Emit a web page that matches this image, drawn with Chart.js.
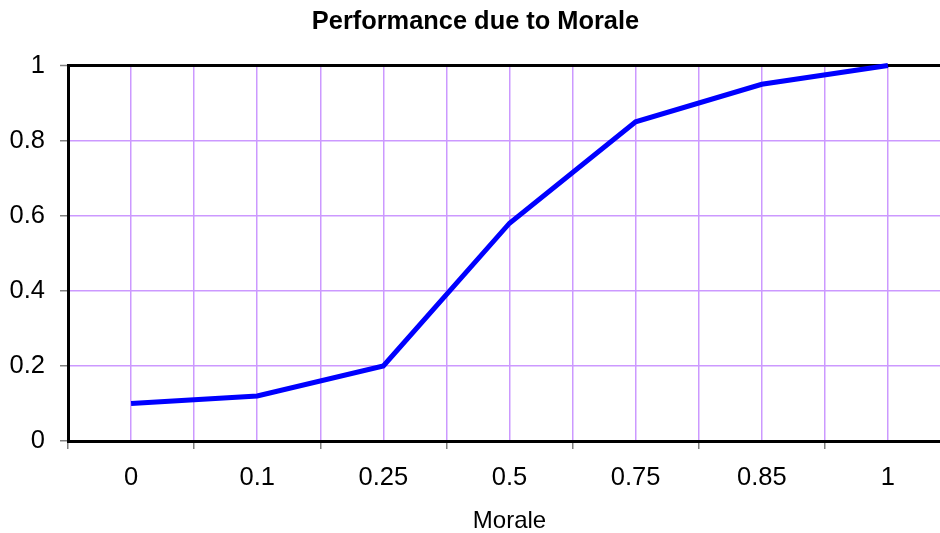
<!DOCTYPE html>
<html>
<head>
<meta charset="utf-8">
<script src="https://cdn.jsdelivr.net/npm/chart.js@4"></script>
<style>
  html, body { margin: 0; padding: 0; background: #fff; overflow: hidden; }
  #wrap { width: 940px; height: 533px; overflow: hidden; }
  canvas { display: block; }
</style>
</head>
<body>
<div id="wrap"><canvas id="chart" width="951" height="533"></canvas></div>
<script>
// morale categories on the x axis and performance
const morale = ["0", "0.1", "0.25", "0.5", "0.75", "0.85", "1"];
const performance = [0.1, 0.12, 0.2, 0.58, 0.85, 0.95, 1.0];

const GRID = "#cc99ff";
const TICK = "#808080";
const FONT = "'Liberation Sans', Arial, sans-serif";

new Chart(document.getElementById("chart"), {
    type: "line",
    data: {
        datasets: [{
            label: "Performance",
            data: performance.map((v, i) => ({ x: i, y: v })),
            borderColor: "#0000ff",
            borderWidth: 5,
            pointRadius: 0,
            tension: 0,
            clip: false
        }]
    },
    options: {
        responsive: false,
        devicePixelRatio: 1,
        animation: false,
        layout: { padding: 0 },
        plugins: {
            legend: { display: false },
            tooltip: { enabled: false },
            title: {
                display: true,
                text: "Performance due to Morale",
                color: "#000",
                font: { family: FONT, size: 25.4, weight: "bold" },
                padding: { top: 7, bottom: 28 }
            }
        },
        scales: {
            x: {
                type: "linear",
                min: -0.5,
                max: 6.5,
                afterFit: s => {
                    // keep the plot running off the right edge like the original
                    s.height = 92;
                    s.paddingLeft = 0;
                    s.paddingRight = 0;
                },
                ticks: {
                    stepSize: 0.5,
                    autoSkip: false,
                    maxRotation: 0,
                    padding: 14,
                    color: "#000",
                    font: { family: FONT, size: 25.5 },
                    callback: v => Number.isInteger(v) ? morale[v] : ""
                },
                grid: {
                    color: GRID,
                    lineWidth: 1.5,
                    tickLength: 8,
                    tickWidth: 1.5,
                    tickColor: ctx => Number.isInteger(ctx.tick.value) ? "rgba(0,0,0,0)" : TICK
                },
                border: { color: "#000", width: 3 },
                title: {
                    display: true,
                    text: "Morale",
                    color: "#000",
                    font: { family: FONT, size: 24, lineHeight: 1 },
                    padding: { top: 0, bottom: 0 }
                }
            },
            y: {
                min: 0,
                max: 1,
                afterFit: s => { s.width = 68; },
                ticks: {
                    stepSize: 0.2,
                    padding: 15,
                    color: "#000",
                    font: { family: FONT, size: 25.5 },
                    callback: v => String(+v.toFixed(1))
                },
                grid: {
                    color: ctx => ctx.tick.value === 1 ? "#000" : GRID,
                    lineWidth: ctx => ctx.tick.value === 1 ? 3 : 1.5,
                    tickLength: 8,
                    tickWidth: 1.5,
                    tickColor: TICK
                },
                border: { color: "#000", width: 3 }
            }
        }
    }
});
</script>
</body>
</html>
